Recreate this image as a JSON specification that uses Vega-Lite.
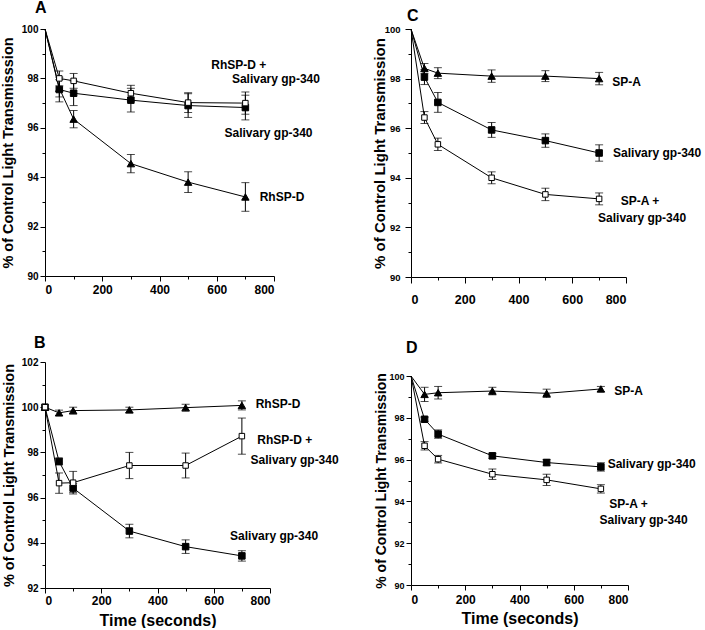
{
  "$schema": "https://vega.github.io/schema/vega-lite/v6.json",
  "padding": 0,
  "background": "white",
  "config": {
    "font": "Liberation Sans",
    "view": {"stroke": null},
    "axis": {"grid": false, "domainColor": "black", "tickColor": "black", "labelColor": "black", "titleColor": "black", "labelFontWeight": "bold", "titleFontWeight": "bold", "labelFont": "Liberation Sans", "titleFont": "Liberation Sans", "domainWidth": 1, "tickWidth": 1},
    "title": {"color": "black", "font": "Liberation Sans", "fontWeight": "bold"}
  },
  "resolve": {"scale": {"shape": "independent", "fill": "independent", "size": "independent"}},
  "spacing": 33,
  "hconcat": [
    {
      "resolve": {"scale": {"shape": "independent", "fill": "independent", "size": "independent"}},
      "spacing": 40,
      "vconcat": [
        {
          "width": 229, "height": 247,
          "title": {"text": "A", "anchor": "start", "frame": "group", "fontSize": 16, "dx": -10, "offset": 8},
          "data": {"values": [
            {"s": "RhSP-D", "t": 0, "v": 100, "e": 0},
            {"s": "RhSP-D", "t": 50, "v": 97.6, "e": 0.35},
            {"s": "RhSP-D", "t": 100, "v": 96.35, "e": 0.35},
            {"s": "RhSP-D", "t": 300, "v": 94.55, "e": 0.37},
            {"s": "RhSP-D", "t": 500, "v": 93.8, "e": 0.42},
            {"s": "RhSP-D", "t": 700, "v": 93.2, "e": 0.58},
            {"s": "Salivary gp-340", "t": 0, "v": 100, "e": 0},
            {"s": "Salivary gp-340", "t": 50, "v": 97.55, "e": 0.5},
            {"s": "Salivary gp-340", "t": 100, "v": 97.4, "e": 0.5},
            {"s": "Salivary gp-340", "t": 300, "v": 97.12, "e": 0.48},
            {"s": "Salivary gp-340", "t": 500, "v": 96.9, "e": 0.48},
            {"s": "Salivary gp-340", "t": 700, "v": 96.82, "e": 0.5},
            {"s": "RhSP-D + Salivary gp-340", "t": 0, "v": 100, "e": 0},
            {"s": "RhSP-D + Salivary gp-340", "t": 50, "v": 98.0, "e": 0.3},
            {"s": "RhSP-D + Salivary gp-340", "t": 100, "v": 97.9, "e": 0.3},
            {"s": "RhSP-D + Salivary gp-340", "t": 300, "v": 97.4, "e": 0.32},
            {"s": "RhSP-D + Salivary gp-340", "t": 500, "v": 97.02, "e": 0.4},
            {"s": "RhSP-D + Salivary gp-340", "t": 700, "v": 97.0, "e": 0.45}
          ]},
          "resolve": {"axis": {"x": "independent", "y": "independent"}},
          "layer": [
            {"mark": {"type": "line", "color": "black", "strokeWidth": 1},
             "encoding": {
               "x": {"field": "t", "type": "quantitative", "scale": {"domain": [0, 800], "nice": false}, "axis": {"orient": "bottom", "values": [0, 200, 400, 600, 800], "tickSize": 5, "labelFontSize": 12, "labelPadding": 3, "title": null}},
               "y": {"field": "v", "type": "quantitative", "scale": {"domain": [90, 100], "nice": false, "zero": false}, "axis": {"orient": "left", "values": [90, 92, 94, 96, 98, 100], "tickSize": 5, "labelFontSize": 10, "labelPadding": 2, "title": "% of Control Light Transmisssion", "titleFontSize": 14.5, "titlePadding": 6}},
               "detail": {"field": "s"}}},
            {"mark": {"type": "point", "opacity": 0},
             "encoding": {
               "x": {"field": "t", "type": "quantitative", "axis": {"orient": "bottom", "values": [100, 300, 500, 700], "tickSize": 3, "labels": false, "domain": false, "title": null}},
               "y": {"field": "v", "type": "quantitative", "axis": {"orient": "left", "values": [91, 93, 95, 97, 99], "tickSize": 3, "labels": false, "domain": false, "title": null}}}},
            {"transform": [{"filter": "datum.t > 0"}],
             "mark": {"type": "errorbar", "color": "black", "ticks": {"size": 8, "color": "black"}},
             "encoding": {
               "x": {"field": "t", "type": "quantitative", "axis": null},
               "y": {"field": "v", "type": "quantitative", "axis": null},
               "yError": {"field": "e"}}},
            {"transform": [{"filter": "datum.t > 0"}],
             "mark": {"type": "point", "filled": true, "stroke": "black", "strokeWidth": 1, "opacity": 1},
             "encoding": {
               "x": {"field": "t", "type": "quantitative", "axis": null},
               "y": {"field": "v", "type": "quantitative", "axis": null},
               "shape": {"field": "s", "type": "nominal", "scale": {"domain": ["RhSP-D", "Salivary gp-340", "RhSP-D + Salivary gp-340"], "range": ["triangle-up", "square", "square"]}, "legend": null},
               "fill": {"field": "s", "type": "nominal", "scale": {"domain": ["RhSP-D", "Salivary gp-340", "RhSP-D + Salivary gp-340"], "range": ["black", "black", "white"]}, "legend": null},
               "size": {"field": "s", "type": "nominal", "scale": {"domain": ["RhSP-D", "Salivary gp-340", "RhSP-D + Salivary gp-340"], "range": [55, 30, 30]}, "legend": null}}},
            {"data": {"values": [
               {"x": 581, "y": 98.55, "text": "RhSP-D +"},
               {"x": 653, "y": 97.96, "text": "Salivary gp-340"},
               {"x": 627, "y": 95.8, "text": "Salivary gp-340"},
               {"x": 750, "y": 93.2, "text": "RhSP-D"}]},
             "mark": {"type": "text", "align": "left", "baseline": "middle", "fontSize": 12, "fontWeight": "bold", "color": "black"},
             "encoding": {
               "x": {"field": "x", "type": "quantitative", "axis": null},
               "y": {"field": "y", "type": "quantitative", "axis": null},
               "text": {"field": "text"}}}
          ]
        },
        {
          "width": 225, "height": 226,
          "title": {"text": "B", "anchor": "start", "frame": "group", "fontSize": 16, "dx": -11, "offset": 6},
          "data": {"values": [
            {"s": "RhSP-D", "t": 0, "v": 100, "e": 0},
            {"s": "RhSP-D", "t": 50, "v": 99.75, "e": 0.12},
            {"s": "RhSP-D", "t": 100, "v": 99.85, "e": 0.15},
            {"s": "RhSP-D", "t": 300, "v": 99.88, "e": 0.12},
            {"s": "RhSP-D", "t": 500, "v": 99.98, "e": 0.15},
            {"s": "RhSP-D", "t": 700, "v": 100.08, "e": 0.2},
            {"s": "Salivary gp-340", "t": 0, "v": 100, "e": 0},
            {"s": "Salivary gp-340", "t": 50, "v": 97.6, "e": 0.15},
            {"s": "Salivary gp-340", "t": 100, "v": 96.42, "e": 0.2},
            {"s": "Salivary gp-340", "t": 300, "v": 94.52, "e": 0.3},
            {"s": "Salivary gp-340", "t": 500, "v": 93.83, "e": 0.3},
            {"s": "Salivary gp-340", "t": 700, "v": 93.42, "e": 0.23},
            {"s": "RhSP-D + Salivary gp-340", "t": 0, "v": 100, "e": 0},
            {"s": "RhSP-D + Salivary gp-340", "t": 50, "v": 96.64, "e": 0.45},
            {"s": "RhSP-D + Salivary gp-340", "t": 100, "v": 96.66, "e": 0.5},
            {"s": "RhSP-D + Salivary gp-340", "t": 300, "v": 97.42, "e": 0.58},
            {"s": "RhSP-D + Salivary gp-340", "t": 500, "v": 97.42, "e": 0.55},
            {"s": "RhSP-D + Salivary gp-340", "t": 700, "v": 98.72, "e": 0.8}
          ]},
          "resolve": {"axis": {"x": "independent", "y": "independent"}},
          "layer": [
            {"mark": {"type": "line", "color": "black", "strokeWidth": 1},
             "encoding": {
               "x": {"field": "t", "type": "quantitative", "scale": {"domain": [0, 800], "nice": false}, "axis": {"orient": "bottom", "values": [0, 200, 400, 600, 800], "tickSize": 5, "labelFontSize": 12, "labelPadding": 2, "title": "Time (seconds)", "titleFontSize": 16, "titlePadding": 6}},
               "y": {"field": "v", "type": "quantitative", "scale": {"domain": [92, 102], "nice": false, "zero": false}, "axis": {"orient": "left", "values": [92, 94, 96, 98, 100, 102], "tickSize": 5, "labelFontSize": 10, "labelPadding": 2, "title": "% of Control Light Transmission", "titleFontSize": 14.5, "titlePadding": 5}},
               "detail": {"field": "s"}}},
            {"mark": {"type": "point", "opacity": 0},
             "encoding": {
               "x": {"field": "t", "type": "quantitative", "axis": {"orient": "bottom", "values": [100, 300, 500, 700], "tickSize": 3, "labels": false, "domain": false, "title": null}},
               "y": {"field": "v", "type": "quantitative", "axis": {"orient": "left", "values": [93, 95, 97, 99, 101], "tickSize": 3, "labels": false, "domain": false, "title": null}}}},
            {"transform": [{"filter": "datum.t > 0"}],
             "mark": {"type": "errorbar", "color": "black", "ticks": {"size": 8, "color": "black"}},
             "encoding": {
               "x": {"field": "t", "type": "quantitative", "axis": null},
               "y": {"field": "v", "type": "quantitative", "axis": null},
               "yError": {"field": "e"}}},
            {"mark": {"type": "point", "filled": true, "stroke": "black", "strokeWidth": 1, "opacity": 1},
             "encoding": {
               "x": {"field": "t", "type": "quantitative", "axis": null},
               "y": {"field": "v", "type": "quantitative", "axis": null},
               "shape": {"field": "s", "type": "nominal", "scale": {"domain": ["RhSP-D", "Salivary gp-340", "RhSP-D + Salivary gp-340"], "range": ["triangle-up", "square", "square"]}, "legend": null},
               "fill": {"field": "s", "type": "nominal", "scale": {"domain": ["RhSP-D", "Salivary gp-340", "RhSP-D + Salivary gp-340"], "range": ["black", "black", "white"]}, "legend": null},
               "size": {"field": "s", "type": "nominal", "scale": {"domain": ["RhSP-D", "Salivary gp-340", "RhSP-D + Salivary gp-340"], "range": [55, 30, 30]}, "legend": null}}},
            {"data": {"values": [
               {"x": 749, "y": 100.12, "text": "RhSP-D"},
               {"x": 755, "y": 98.53, "text": "RhSP-D +"},
               {"x": 731, "y": 97.67, "text": "Salivary gp-340"},
               {"x": 658, "y": 94.32, "text": "Salivary gp-340"}]},
             "mark": {"type": "text", "align": "left", "baseline": "middle", "fontSize": 12, "fontWeight": "bold", "color": "black"},
             "encoding": {
               "x": {"field": "x", "type": "quantitative", "axis": null},
               "y": {"field": "y", "type": "quantitative", "axis": null},
               "text": {"field": "text"}}}
          ]
        }
      ]
    },
    {
      "resolve": {"scale": {"shape": "independent", "fill": "independent", "size": "independent"}},
      "spacing": 34,
      "vconcat": [
        {
          "width": 215, "height": 248,
          "title": {"text": "C", "anchor": "start", "frame": "group", "fontSize": 16, "dx": -4, "dy": 4, "offset": 4},
          "data": {"values": [
            {"s": "SP-A", "t": 0, "v": 100, "e": 0},
            {"s": "SP-A", "t": 50, "v": 98.41, "e": 0.2},
            {"s": "SP-A", "t": 100, "v": 98.22, "e": 0.22},
            {"s": "SP-A", "t": 300, "v": 98.1, "e": 0.25},
            {"s": "SP-A", "t": 500, "v": 98.1, "e": 0.22},
            {"s": "SP-A", "t": 700, "v": 98.0, "e": 0.25},
            {"s": "Salivary gp-340", "t": 0, "v": 100, "e": 0},
            {"s": "Salivary gp-340", "t": 50, "v": 98.06, "e": 0.3},
            {"s": "Salivary gp-340", "t": 100, "v": 97.04, "e": 0.4},
            {"s": "Salivary gp-340", "t": 300, "v": 95.93, "e": 0.3},
            {"s": "Salivary gp-340", "t": 500, "v": 95.5, "e": 0.27},
            {"s": "Salivary gp-340", "t": 700, "v": 95.0, "e": 0.33},
            {"s": "SP-A + Salivary gp-340", "t": 0, "v": 100, "e": 0},
            {"s": "SP-A + Salivary gp-340", "t": 50, "v": 96.43, "e": 0.24},
            {"s": "SP-A + Salivary gp-340", "t": 100, "v": 95.35, "e": 0.25},
            {"s": "SP-A + Salivary gp-340", "t": 300, "v": 94.0, "e": 0.24},
            {"s": "SP-A + Salivary gp-340", "t": 500, "v": 93.33, "e": 0.25},
            {"s": "SP-A + Salivary gp-340", "t": 700, "v": 93.15, "e": 0.24}
          ]},
          "resolve": {"axis": {"x": "independent", "y": "independent"}},
          "layer": [
            {"mark": {"type": "line", "color": "black", "strokeWidth": 1},
             "encoding": {
               "x": {"field": "t", "type": "quantitative", "scale": {"domain": [0, 800], "nice": false}, "axis": {"orient": "bottom", "values": [0, 200, 400, 600, 800], "tickSize": 6, "labelFontSize": 12.5, "labelPadding": 10, "title": null}},
               "y": {"field": "v", "type": "quantitative", "scale": {"domain": [90, 100], "nice": false, "zero": false}, "axis": {"orient": "left", "values": [90, 92, 94, 96, 98, 100], "tickSize": 6, "labelFontSize": 9.5, "labelPadding": 5, "title": "% of Control Light Transmission", "titleFontSize": 15, "titlePadding": -3}},
               "detail": {"field": "s"}}},
            {"mark": {"type": "point", "opacity": 0},
             "encoding": {
               "x": {"field": "t", "type": "quantitative", "axis": {"orient": "bottom", "values": [100, 300, 500, 700], "tickSize": 3, "labels": false, "domain": false, "title": null}},
               "y": {"field": "v", "type": "quantitative", "axis": {"orient": "left", "values": [91, 93, 95, 97, 99], "tickSize": 3, "labels": false, "domain": false, "title": null}}}},
            {"transform": [{"filter": "datum.t > 0"}],
             "mark": {"type": "errorbar", "color": "black", "ticks": {"size": 8, "color": "black"}},
             "encoding": {
               "x": {"field": "t", "type": "quantitative", "axis": null},
               "y": {"field": "v", "type": "quantitative", "axis": null},
               "yError": {"field": "e"}}},
            {"transform": [{"filter": "datum.t > 0"}],
             "mark": {"type": "point", "filled": true, "stroke": "black", "strokeWidth": 1, "opacity": 1},
             "encoding": {
               "x": {"field": "t", "type": "quantitative", "axis": null},
               "y": {"field": "v", "type": "quantitative", "axis": null},
               "shape": {"field": "s", "type": "nominal", "scale": {"domain": ["SP-A", "Salivary gp-340", "SP-A + Salivary gp-340"], "range": ["triangle-up", "square", "square"]}, "legend": null},
               "fill": {"field": "s", "type": "nominal", "scale": {"domain": ["SP-A", "Salivary gp-340", "SP-A + Salivary gp-340"], "range": ["black", "black", "white"]}, "legend": null},
               "size": {"field": "s", "type": "nominal", "scale": {"domain": ["SP-A", "Salivary gp-340", "SP-A + Salivary gp-340"], "range": [55, 30, 30]}, "legend": null}}},
            {"data": {"values": [
               {"x": 749, "y": 97.87, "text": "SP-A"},
               {"x": 752, "y": 94.98, "text": "Salivary gp-340"},
               {"x": 780, "y": 93.06, "text": "SP-A +"},
               {"x": 696, "y": 92.38, "text": "Salivary gp-340"}]},
             "mark": {"type": "text", "align": "left", "baseline": "middle", "fontSize": 12, "fontWeight": "bold", "color": "black"},
             "encoding": {
               "x": {"field": "x", "type": "quantitative", "axis": null},
               "y": {"field": "y", "type": "quantitative", "axis": null},
               "text": {"field": "text"}}}
          ]
        },
        {
          "width": 217, "height": 209,
          "title": {"text": "D", "anchor": "start", "frame": "group", "fontSize": 16, "dx": -5, "offset": 16},
          "data": {"values": [
            {"s": "SP-A", "t": 0, "v": 100, "e": 0},
            {"s": "SP-A", "t": 50, "v": 99.12, "e": 0.34},
            {"s": "SP-A", "t": 100, "v": 99.2, "e": 0.3},
            {"s": "SP-A", "t": 300, "v": 99.28, "e": 0.18},
            {"s": "SP-A", "t": 500, "v": 99.17, "e": 0.2},
            {"s": "SP-A", "t": 700, "v": 99.38, "e": 0.12},
            {"s": "Salivary gp-340", "t": 0, "v": 100, "e": 0},
            {"s": "Salivary gp-340", "t": 50, "v": 97.93, "e": 0.1},
            {"s": "Salivary gp-340", "t": 100, "v": 97.22, "e": 0.2},
            {"s": "Salivary gp-340", "t": 300, "v": 96.18, "e": 0.12},
            {"s": "Salivary gp-340", "t": 500, "v": 95.86, "e": 0.15},
            {"s": "Salivary gp-340", "t": 700, "v": 95.65, "e": 0.2},
            {"s": "SP-A + Salivary gp-340", "t": 0, "v": 100, "e": 0},
            {"s": "SP-A + Salivary gp-340", "t": 50, "v": 96.66, "e": 0.2},
            {"s": "SP-A + Salivary gp-340", "t": 100, "v": 96.02, "e": 0.18},
            {"s": "SP-A + Salivary gp-340", "t": 300, "v": 95.3, "e": 0.25},
            {"s": "SP-A + Salivary gp-340", "t": 500, "v": 95.03, "e": 0.27},
            {"s": "SP-A + Salivary gp-340", "t": 700, "v": 94.6, "e": 0.2}
          ]},
          "resolve": {"axis": {"x": "independent", "y": "independent"}},
          "layer": [
            {"mark": {"type": "line", "color": "black", "strokeWidth": 1},
             "encoding": {
               "x": {"field": "t", "type": "quantitative", "scale": {"domain": [0, 800], "nice": false}, "axis": {"orient": "bottom", "values": [0, 200, 400, 600, 800], "tickSize": 5, "labelFontSize": 12, "labelPadding": 4, "title": "Time (seconds)", "titleFontSize": 16, "titlePadding": 5}},
               "y": {"field": "v", "type": "quantitative", "scale": {"domain": [90, 100], "nice": false, "zero": false}, "axis": {"orient": "left", "values": [90, 92, 94, 96, 98, 100], "tickSize": 5, "labelFontSize": 9, "labelPadding": 2, "title": "% of Control Light Transmission", "titleFontSize": 14, "titlePadding": 0}},
               "detail": {"field": "s"}}},
            {"mark": {"type": "point", "opacity": 0},
             "encoding": {
               "x": {"field": "t", "type": "quantitative", "axis": {"orient": "bottom", "values": [100, 300, 500, 700], "tickSize": 3, "labels": false, "domain": false, "title": null}},
               "y": {"field": "v", "type": "quantitative", "axis": {"orient": "left", "values": [91, 93, 95, 97, 99], "tickSize": 3, "labels": false, "domain": false, "title": null}}}},
            {"transform": [{"filter": "datum.t > 0"}],
             "mark": {"type": "errorbar", "color": "black", "ticks": {"size": 8, "color": "black"}},
             "encoding": {
               "x": {"field": "t", "type": "quantitative", "axis": null},
               "y": {"field": "v", "type": "quantitative", "axis": null},
               "yError": {"field": "e"}}},
            {"transform": [{"filter": "datum.t > 0"}],
             "mark": {"type": "point", "filled": true, "stroke": "black", "strokeWidth": 1, "opacity": 1},
             "encoding": {
               "x": {"field": "t", "type": "quantitative", "axis": null},
               "y": {"field": "v", "type": "quantitative", "axis": null},
               "shape": {"field": "s", "type": "nominal", "scale": {"domain": ["SP-A", "Salivary gp-340", "SP-A + Salivary gp-340"], "range": ["triangle-up", "square", "square"]}, "legend": null},
               "fill": {"field": "s", "type": "nominal", "scale": {"domain": ["SP-A", "Salivary gp-340", "SP-A + Salivary gp-340"], "range": ["black", "black", "white"]}, "legend": null},
               "size": {"field": "s", "type": "nominal", "scale": {"domain": ["SP-A", "Salivary gp-340", "SP-A + Salivary gp-340"], "range": [55, 30, 30]}, "legend": null}}},
            {"data": {"values": [
               {"x": 749, "y": 99.28, "text": "SP-A"},
               {"x": 725, "y": 95.78, "text": "Salivary gp-340"},
               {"x": 731, "y": 93.87, "text": "SP-A +"},
               {"x": 695, "y": 93.12, "text": "Salivary gp-340"}]},
             "mark": {"type": "text", "align": "left", "baseline": "middle", "fontSize": 12, "fontWeight": "bold", "color": "black"},
             "encoding": {
               "x": {"field": "x", "type": "quantitative", "axis": null},
               "y": {"field": "y", "type": "quantitative", "axis": null},
               "text": {"field": "text"}}}
          ]
        }
      ]
    }
  ]
}
